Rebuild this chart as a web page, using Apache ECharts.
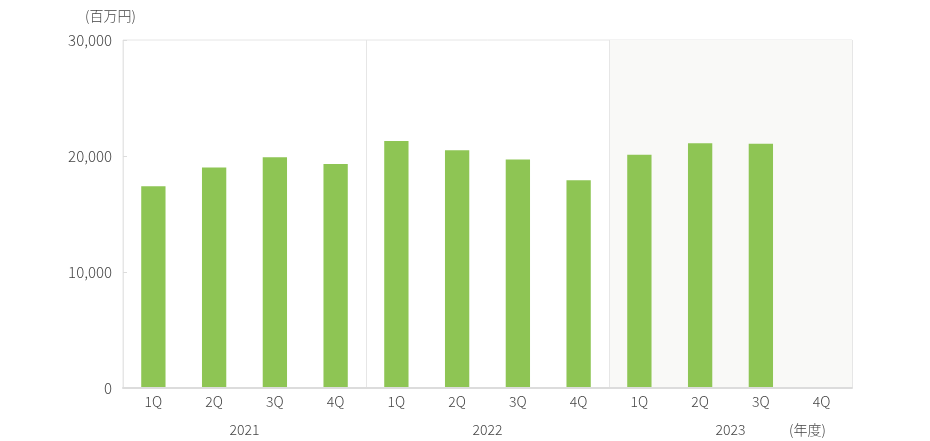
<!DOCTYPE html>
<html><head><meta charset="utf-8">
<script src="https://cdn.jsdelivr.net/npm/echarts@6/dist/echarts.min.js"></script>
<style>html,body{margin:0;padding:0;background:#fff}#c{width:930px;height:441px}</style>
</head><body><div id="c"></div>
<script>
const quarters = ['1Q','2Q','3Q','4Q','1Q','2Q','3Q','4Q','1Q','2Q','3Q','4Q'];
const years = ['2021','2022','2023'];
const values = [17400, 19000, 19900, 19300, 21300, 20500, 19700, 17900, 20100, 21100, 21050, null];
const yTicks = [0, 10000, 20000, 30000];
const unitLabel = '(百万円)';
const yearUnitLabel = '(年度)';

const font = '"Noto Sans CJK JP", "Noto Sans", sans-serif';
const chart = echarts.init(document.getElementById('c'), null, {renderer:'canvas'});
chart.setOption({
  animation:false,
  textStyle:{fontFamily:font},
  grid:{left:123,right:78,top:40,bottom:53,show:true,borderColor:'#e6e6e6',borderWidth:1,backgroundColor:'transparent'},
  xAxis:[{
    type:'category', data:quarters.map((q,i)=>({value:q+'_'+i})),
    axisLine:{show:true,lineStyle:{color:'#dcdcdc',width:2}},
    axisTick:{show:false},
    axisLabel:{formatter:v=>v.split('_')[0],color:'#444',fontSize:14,fontWeight:300,margin:7,fontFamily:font},
    z:5
  },{
    type:'category', data:years, position:'bottom', offset:27,
    axisLine:{show:false}, axisTick:{show:false},
    axisLabel:{color:'#444',fontSize:14,fontWeight:300,fontFamily:font},
    splitLine:{show:true,lineStyle:{color:'#e6e6e6',width:1}},
    splitArea:{show:true,areaStyle:{color:['rgba(0,0,0,0)','rgba(0,0,0,0)','#f9f9f7']}}
  }],
  yAxis:{
    type:'value', min:yTicks[0], max:yTicks[yTicks.length-1], interval:yTicks[1]-yTicks[0],
    axisLine:{show:false},
    axisTick:{show:true,inside:true,length:4,lineStyle:{color:'#dcdcdc'}},
    splitLine:{show:false},
    axisLabel:{color:'#444',fontSize:15,fontWeight:300,margin:11,fontFamily:font,formatter:v=>v.toLocaleString('en-US')}
  },
  graphic:[
    {type:'text',left:85,top:9,style:{text:unitLabel,fill:'#444',font:'300 14px '+font}},
    {type:'text',left:789,top:423,style:{text:yearUnitLabel,fill:'#444',font:'300 14px '+font}}
  ],
  series:[{
    type:'bar', data:values, xAxisIndex:0, barWidth:'40%',
    itemStyle:{color:'#8ec554'}
  }]
});
</script></body></html>
